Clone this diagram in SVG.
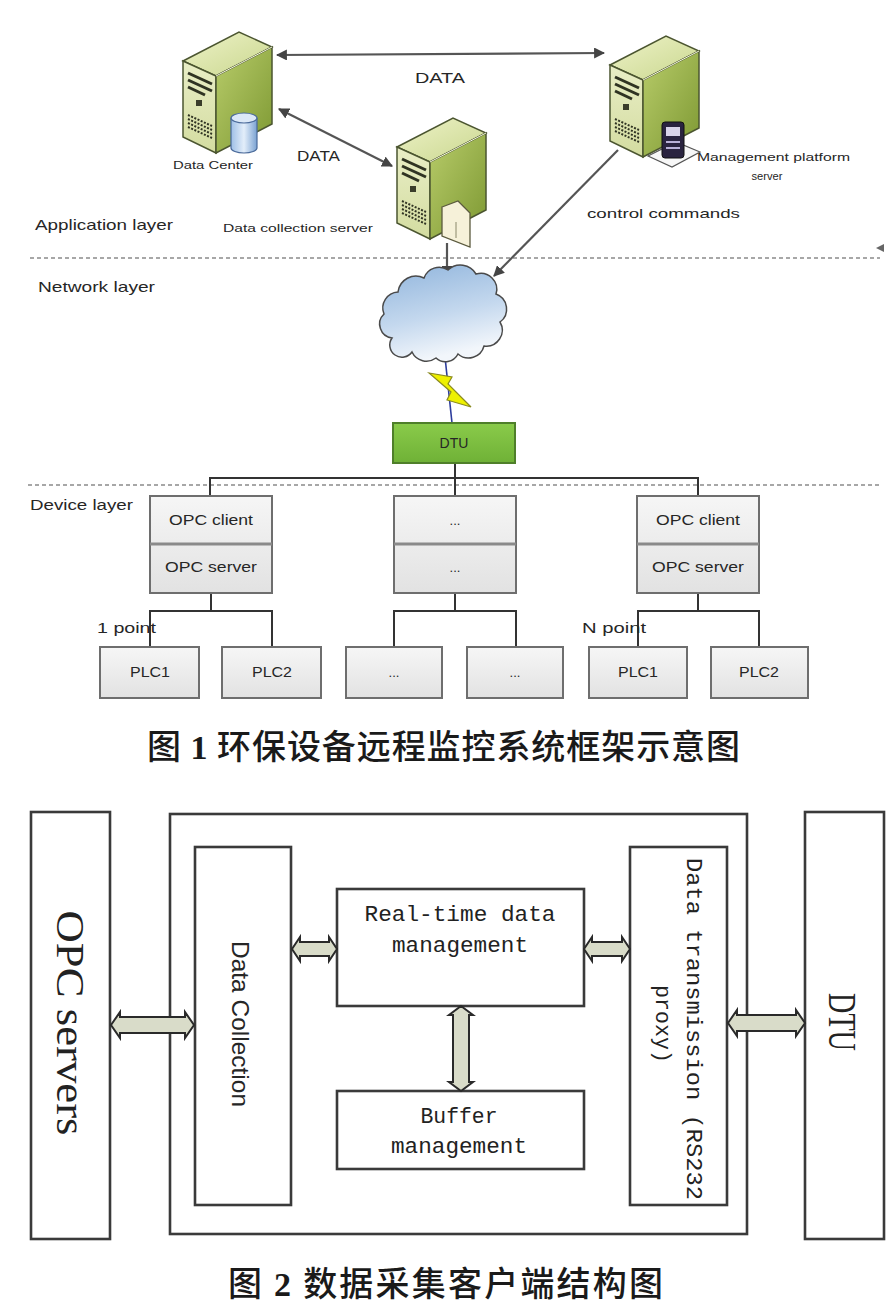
<svg xmlns="http://www.w3.org/2000/svg" xmlns:xlink="http://www.w3.org/1999/xlink" width="895" height="1314" viewBox="0 0 895 1314">
<style>
.lbl{font-family:"Liberation Sans","DejaVu Sans",sans-serif;fill:#262626}
.dash{stroke:#8a8a8a;stroke-width:1.6;stroke-dasharray:4 3;fill:none}
.conn{stroke:#555;stroke-width:2.2;fill:none}
.bus{stroke:#333;stroke-width:2;fill:none}
.dbox{fill:url(#boxg);stroke:#6e6e6e;stroke-width:2}
.blk{fill:none;stroke:#3a3a3a;stroke-width:2.6}
.barrow{fill:#d9dcc9;stroke:#2a2a2a;stroke-width:2}
.mono{font-family:"Liberation Mono","DejaVu Sans Mono",monospace;fill:#222}
.serif{font-family:"Liberation Serif","Times New Roman",serif;fill:#222}
.cap{font-family:"Noto Sans CJK SC","Liberation Serif",sans-serif;fill:#1a1a1a;font-size:34px;font-weight:500}
</style>
<defs>
<linearGradient id="topg" x1="0" y1="0" x2="1" y2="1"><stop offset="0" stop-color="#eef2c8"/><stop offset="1" stop-color="#c9d78e"/></linearGradient>
<linearGradient id="leftg" x1="0" y1="0" x2="0" y2="1"><stop offset="0" stop-color="#e9eec6"/><stop offset="1" stop-color="#d3dca0"/></linearGradient>
<linearGradient id="rightg" x1="0" y1="0" x2="1" y2="1"><stop offset="0" stop-color="#b8cc6a"/><stop offset="1" stop-color="#7d9832"/></linearGradient>
<linearGradient id="dbg" x1="0" y1="0" x2="1" y2="0"><stop offset="0" stop-color="#9ebfe6"/><stop offset="0.5" stop-color="#e3eefa"/><stop offset="1" stop-color="#7aa2d2"/></linearGradient>
<linearGradient id="cloudg" x1="0" y1="0" x2="0.3" y2="1"><stop offset="0" stop-color="#8fb4dc"/><stop offset="0.6" stop-color="#c4d8ee"/><stop offset="1" stop-color="#f2f6fb"/></linearGradient>
<linearGradient id="boxg" x1="0" y1="0" x2="0" y2="1"><stop offset="0" stop-color="#f6f6f6"/><stop offset="1" stop-color="#e2e2e2"/></linearGradient>
<linearGradient id="dtug" x1="0" y1="0" x2="0" y2="1"><stop offset="0" stop-color="#8acb4a"/><stop offset="1" stop-color="#6fb136"/></linearGradient>
<marker id="ah" viewBox="0 0 10 10" refX="9" refY="5" markerWidth="5" markerHeight="5" orient="auto-start-reverse"><path d="M0,0 L10,5 L0,10 Z" fill="#444"/></marker>
<g id="server">
<polygon points="0,29 56,0 89,15 33,44" fill="url(#topg)" stroke="#4b5530" stroke-width="1.5"/>
<polygon points="0,29 33,44 33,121 0,105" fill="url(#leftg)" stroke="#4b5530" stroke-width="1.5"/>
<polygon points="33,44 89,15 89,92 33,121" fill="url(#rightg)" stroke="#4b5530" stroke-width="1.5"/>
<line x1="33" y1="44" x2="89" y2="15" stroke="#f4f7dc" stroke-width="1"/>
<g stroke="#2f3322" stroke-width="3">
<line x1="5" y1="41" x2="29" y2="52"/>
<line x1="5" y1="48" x2="29" y2="59"/>
<line x1="5" y1="55" x2="22" y2="63"/>
</g>
<rect x="13" y="68" width="6" height="6" fill="#3a3d2a"/>
<g stroke="#2f3322" stroke-width="2" stroke-dasharray="2 1.5">
<line x1="5" y1="83" x2="29" y2="94"/>
<line x1="5" y1="87" x2="29" y2="98"/>
<line x1="5" y1="91" x2="29" y2="102"/>
<line x1="5" y1="95" x2="29" y2="106"/>
</g>
</g>
</defs>
<rect width="895" height="1314" fill="#ffffff"/>

<g id="layers">
<line class="dash" x1="30" y1="258" x2="880" y2="258"/>
<polygon points="876,248 884,244 884,252" fill="#666"/>
<line class="dash" x1="28" y1="485" x2="882" y2="485"/>
<text class="lbl" x="35" y="230" font-size="15" textLength="138" lengthAdjust="spacingAndGlyphs">Application layer</text>
<text class="lbl" x="38" y="292" font-size="15" textLength="117" lengthAdjust="spacingAndGlyphs">Network layer</text>
<text class="lbl" x="30" y="510" font-size="14" textLength="103" lengthAdjust="spacingAndGlyphs">Device layer</text>
</g>

<g id="connectors">
<line class="conn" x1="277" y1="55" x2="604" y2="53" marker-start="url(#ah)" marker-end="url(#ah)"/>
<line class="conn" x1="279" y1="109" x2="392" y2="166" marker-start="url(#ah)" marker-end="url(#ah)"/>
<line class="conn" x1="447" y1="243" x2="447" y2="276" marker-end="url(#ah)"/>
<line class="conn" x1="618" y1="150" x2="494" y2="276" marker-end="url(#ah)"/>
<line x1="445" y1="357" x2="452" y2="423" stroke="#2c3c9c" stroke-width="1.6"/>
<polyline class="bus" points="455,463 455,478"/>
<polyline class="bus" points="210,496 210,478 698,478 698,496"/>
<line class="bus" x1="455" y1="478" x2="455" y2="496"/>
<polyline class="bus" points="211,593 211,611"/>
<polyline class="bus" points="150,647 150,611 272,611 272,647"/>
<polyline class="bus" points="455,593 455,611"/>
<polyline class="bus" points="394,647 394,611 516,611 516,647"/>
<polyline class="bus" points="698,593 698,611"/>
<polyline class="bus" points="638,647 638,611 759,611 759,647"/>
<text class="lbl" x="415" y="83" font-size="14" textLength="50" lengthAdjust="spacingAndGlyphs">DATA</text>
<text class="lbl" x="297" y="161" font-size="14" textLength="43" lengthAdjust="spacingAndGlyphs">DATA</text>
<text class="lbl" x="587" y="218" font-size="13" textLength="153" lengthAdjust="spacingAndGlyphs">control commands</text>
<text class="lbl" x="97" y="633" font-size="14" textLength="59" lengthAdjust="spacingAndGlyphs">1 point</text>
<text class="lbl" x="582" y="633" font-size="14" textLength="64" lengthAdjust="spacingAndGlyphs">N point</text>
</g>

<g id="data-center">
<use href="#server" x="183" y="32"/>
<path d="M231,118 L231,148 A13,5 0 0 0 257,148 L257,118" fill="url(#dbg)" stroke="#4a6a9a" stroke-width="1.2"/>
<ellipse cx="244" cy="118" rx="13" ry="5" fill="#dbe8f7" stroke="#4a6a9a" stroke-width="1.2"/>
<text class="lbl" x="173" y="169" font-size="10" textLength="80" lengthAdjust="spacingAndGlyphs">Data Center</text>
</g>

<g id="data-collection-server">
<use href="#server" x="397" y="118"/>
<polygon points="442,207 458,201 470,213 470,247 442,236" fill="#f6f1d9" stroke="#5b5a3e" stroke-width="1.3"/>
<line x1="456" y1="222" x2="456" y2="238" stroke="#8a886a" stroke-width="1"/>
<text class="lbl" x="223" y="232" font-size="10" textLength="150" lengthAdjust="spacingAndGlyphs">Data collection server</text>
</g>

<g id="management-server">
<use href="#server" x="610" y="36" transform="translate(0,0)"/>
<polygon points="648,156 676,142 700,152 672,167" fill="#f7f7f7" stroke="#555" stroke-width="1.2"/>
<rect x="662" y="122" width="22" height="36" rx="3" fill="#2a2440" stroke="#111" stroke-width="1"/>
<rect x="666" y="127" width="14" height="9" fill="#d9d4ea"/>
<line x1="666" y1="142" x2="680" y2="142" stroke="#b9b1d8" stroke-width="2"/>
<line x1="666" y1="148" x2="680" y2="148" stroke="#b9b1d8" stroke-width="2"/>
<text class="lbl" x="697" y="161" font-size="10" textLength="153" lengthAdjust="spacingAndGlyphs">Management platform</text>
<text class="lbl" x="767" y="180" font-size="10" text-anchor="middle" textLength="31" lengthAdjust="spacingAndGlyphs">server</text>
</g>

<g id="cloud">
<path d="M392,338 a14,14 0 0 1 -8,-24 a16,16 0 0 1 14,-22 a18,18 0 0 1 26,-14 a16,16 0 0 1 24,-8 a18,18 0 0 1 28,4 a16,16 0 0 1 20,20 a16,16 0 0 1 4,28 a16,16 0 0 1 -16,24 a16,16 0 0 1 -26,8 a14,14 0 0 1 -22,4 a16,16 0 0 1 -24,-6 a12,12 0 0 1 -20,-14 Z" fill="url(#cloudg)" stroke="#4a4a4a" stroke-width="1.5"/>
</g>

<g id="wireless">
<polygon points="429,373 452,377 448,384 471,407 447,400 451,392" fill="#eef000" stroke="#8a8a20" stroke-width="1.2"/>
</g>

<g id="dtu-top">
<rect x="393" y="423" width="122" height="40" fill="url(#dtug)" stroke="#4f7f2a" stroke-width="2"/>
<text class="lbl" x="454" y="448" font-size="14" text-anchor="middle">DTU</text>
</g>

<g id="opc-1">
<rect class="dbox" x="150" y="496" width="122" height="97"/>
<line x1="150" y1="544" x2="272" y2="544" stroke="#8a8a8a" stroke-width="3"/>
<text class="lbl" x="211" y="525" font-size="15" text-anchor="middle" textLength="84" lengthAdjust="spacingAndGlyphs">OPC client</text>
<text class="lbl" x="211" y="572" font-size="15" text-anchor="middle" textLength="92" lengthAdjust="spacingAndGlyphs">OPC server</text>
</g>
<g id="opc-mid">
<rect class="dbox" x="394" y="496" width="122" height="97"/>
<line x1="394" y1="544" x2="516" y2="544" stroke="#8a8a8a" stroke-width="3"/>
<text class="lbl" x="455" y="525" font-size="13" text-anchor="middle">...</text>
<text class="lbl" x="455" y="572" font-size="13" text-anchor="middle">...</text>
</g>
<g id="opc-n">
<rect class="dbox" x="637" y="496" width="122" height="97"/>
<line x1="637" y1="544" x2="759" y2="544" stroke="#8a8a8a" stroke-width="3"/>
<text class="lbl" x="698" y="525" font-size="15" text-anchor="middle" textLength="84" lengthAdjust="spacingAndGlyphs">OPC client</text>
<text class="lbl" x="698" y="572" font-size="15" text-anchor="middle" textLength="92" lengthAdjust="spacingAndGlyphs">OPC server</text>
</g>

<g id="plc-1-1"><rect class="dbox" x="100" y="647" width="99" height="51"/><text class="lbl" x="150" y="677" font-size="14" text-anchor="middle" textLength="40" lengthAdjust="spacingAndGlyphs">PLC1</text></g>
<g id="plc-1-2"><rect class="dbox" x="222" y="647" width="99" height="51"/><text class="lbl" x="272" y="677" font-size="14" text-anchor="middle" textLength="40" lengthAdjust="spacingAndGlyphs">PLC2</text></g>
<g id="plc-m-1"><rect class="dbox" x="346" y="647" width="96" height="51"/><text class="lbl" x="394" y="677" font-size="13" text-anchor="middle">...</text></g>
<g id="plc-m-2"><rect class="dbox" x="467" y="647" width="96" height="51"/><text class="lbl" x="515" y="677" font-size="13" text-anchor="middle">...</text></g>
<g id="plc-n-1"><rect class="dbox" x="589" y="647" width="98" height="51"/><text class="lbl" x="638" y="677" font-size="14" text-anchor="middle" textLength="40" lengthAdjust="spacingAndGlyphs">PLC1</text></g>
<g id="plc-n-2"><rect class="dbox" x="711" y="647" width="97" height="51"/><text class="lbl" x="759" y="677" font-size="14" text-anchor="middle" textLength="40" lengthAdjust="spacingAndGlyphs">PLC2</text></g>

<g id="caption-1">
<text class="cap" x="147" y="759" textLength="593" lengthAdjust="spacing">图 <tspan font-family="Liberation Serif" font-weight="bold">1</tspan> 环保设备远程监控系统框架示意图</text>
</g>

<!-- Figure 2 -->
<g id="opc-servers">
<rect class="blk" x="31" y="812" width="79" height="427"/>
<text class="serif" transform="translate(57,1023) rotate(90)" font-size="40" text-anchor="middle" textLength="225" lengthAdjust="spacingAndGlyphs">OPC  servers</text>
</g>
<g id="client">
<rect class="blk" x="170" y="814" width="577" height="420"/>
</g>
<g id="data-collection">
<rect class="blk" x="195" y="847" width="96" height="358"/>
<text class="lbl" transform="translate(232,1024) rotate(90)" font-size="24" text-anchor="middle" textLength="166" lengthAdjust="spacingAndGlyphs">Data Collection</text>
</g>
<g id="realtime">
<rect class="blk" x="337" y="889" width="247" height="117"/>
<text class="mono" x="460" y="921" font-size="22" text-anchor="middle" textLength="191" lengthAdjust="spacingAndGlyphs">Real-time data</text>
<text class="mono" x="460" y="952" font-size="22" text-anchor="middle" textLength="136" lengthAdjust="spacingAndGlyphs">management</text>
</g>
<g id="buffer">
<rect class="blk" x="337" y="1091" width="247" height="78"/>
<text class="mono" x="459" y="1123" font-size="22" text-anchor="middle" textLength="77" lengthAdjust="spacingAndGlyphs">Buffer</text>
<text class="mono" x="459" y="1153" font-size="22" text-anchor="middle" textLength="136" lengthAdjust="spacingAndGlyphs">management</text>
</g>
<g id="data-transmission">
<rect class="blk" x="630" y="847" width="97" height="358"/>
<text class="mono" transform="translate(687,1029) rotate(90)" font-size="22" text-anchor="middle" textLength="342" lengthAdjust="spacingAndGlyphs">Data transmission  (RS232</text>
<text class="mono" transform="translate(656,1024) rotate(90)" font-size="22" text-anchor="middle" textLength="78" lengthAdjust="spacingAndGlyphs">proxy)</text>
</g>
<g id="dtu-box">
<rect class="blk" x="805" y="812" width="79" height="427"/>
<text class="serif" transform="translate(829,1022) rotate(90)" font-size="40" text-anchor="middle" textLength="58" lengthAdjust="spacingAndGlyphs">DTU</text>
</g>

<g id="fig2-connectors">
<path class="barrow" d="M111,1025 L120,1012 L120,1017 L185,1017 L185,1012 L194,1025 L185,1038 L185,1033 L120,1033 L120,1038 Z"/>
<path class="barrow" d="M292,949 L300,937 L300,942 L329,942 L329,937 L337,949 L329,961 L329,956 L300,956 L300,961 Z"/>
<path class="barrow" d="M584,949 L592,937 L592,942 L622,942 L622,937 L630,949 L622,961 L622,956 L592,956 L592,961 Z"/>
<path class="barrow" d="M728,1023 L737,1010 L737,1015 L796,1015 L796,1010 L805,1023 L796,1036 L796,1031 L737,1031 L737,1036 Z"/>
<path class="barrow" d="M461,1006 L473,1015 L469,1015 L469,1082 L473,1082 L461,1091 L449,1082 L453,1082 L453,1015 L449,1015 Z"/>
</g>

<g id="caption-2">
<text class="cap" x="228" y="1296" textLength="435" lengthAdjust="spacing">图 <tspan font-family="Liberation Serif" font-weight="bold">2</tspan>  数据采集客户端结构图</text>
</g>
</svg>
